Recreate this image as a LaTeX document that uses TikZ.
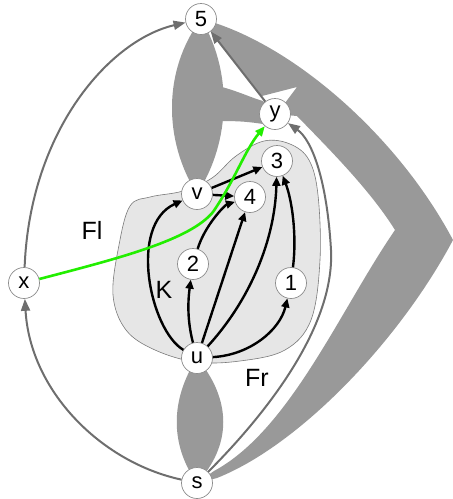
\documentclass[tikz,border=0pt]{standalone}
\usepackage{fontspec}
\setmainfont{Liberation Sans}
\usetikzlibrary{arrows.meta}
\definecolor{gfill}{HTML}{999999}
\definecolor{garr}{HTML}{6E6E6E}
\definecolor{blobfill}{HTML}{E6E6E6}
\definecolor{blobline}{HTML}{7A7A7A}
\definecolor{grn}{HTML}{22EE00}
\pgfdeclarelayer{bg}
\pgfsetlayers{bg,main}
\begin{document}
\begin{tikzpicture}[x=1pt,y=-1pt,
  vtx/.style={circle,draw=black!45,line width=0.7pt,fill=white,minimum size=31pt,inner sep=0pt,font=\fontsize{22}{22}\selectfont},
  garrow/.style={draw=garr,line width=2pt,-{Triangle[length=12pt,width=9pt]}},
  karrow/.style={draw=black,line width=2.4pt,-{Triangle[length=9pt,width=8pt]}},
  gedge/.style={draw=grn,line width=2.6pt,-{Triangle[length=10pt,width=8pt]}},
  lbl/.style={font=\fontsize{25}{25}\selectfont}]
\useasboundingbox (0,0) rectangle (453,499);
% nodes
\node[vtx] (n5) at (201,19) {5};
\node[vtx] (ny) at (275,114) {y};
\node[vtx] (n3) at (277,161) {3};
\node[vtx] (nv) at (197,194) {v};
\node[vtx] (n4) at (250,197) {4};
\node[vtx] (n2) at (193,264) {2};
\node[vtx] (n1) at (291,283) {1};
\node[vtx] (nx) at (24,283) {x};
\node[vtx] (nu) at (197,358) {u};
\node[vtx] (ns) at (197,483) {s};
% labels
\node[lbl] (lfl) at (92,230) {Fl};
\node[lbl] (lk) at (164,290) {K};
\node[lbl] (lfr) at (257,378) {Fr};
\begin{pgfonlayer}{bg}
  % chevron band
  \fill[gfill] (n5.center) -- (262,96) -- (297,87) -- (285,103) -- (ny.center) -- (297,116)
    .. controls (330,150) and (370,190) .. (395,230)
    .. controls (340,310) and (290,430) .. (214,471) -- (ns.center) -- (217,478)
    .. controls (300,445) and (400,340) .. (453,240)
    .. controls (400,140) and (300,50) .. (212,22) -- (n5.center);
  % lens 5 - v
  \fill[gfill] (n5.center) .. controls (163,70) and (163,140) .. (nv.center)
    .. controls (232,140) and (232,70) .. (n5.center);
  % band lens - y
  \fill[gfill] (222,87) .. controls (240,92) and (252,98) .. (263,101) -- (ny.center) -- (263,124)
    .. controls (250,122) and (240,121) .. (222,121) -- cycle;
  % lens u - s
  \fill[gfill] (nu.center) .. controls (170,400) and (170,445) .. (ns.center)
    .. controls (232,445) and (232,400) .. (nu.center);
  % blob K
  \filldraw[fill=blobfill,draw=blobline,line width=0.6pt]
    plot[smooth cycle,tension=0.6] coordinates {(183,191) (150,197) (130,206) (119,245) (113,295) (126,330) (155,350) (196,362) (240,361) (285,350) (311,320) (320,260) (318,195) (309,160) (290,144) (264,141) (236,156) (212,178)};
\end{pgfonlayer}
% gray arrows
\draw[garrow] (nx) .. controls (30,130) and (110,40) .. (n5);
\draw[garrow] (ns) .. controls (100,462) and (30,390) .. (nx);
\draw[garrow] (ny) -- (n5);
\coordinate (mr) at (331,250);
\draw[garrow] (ns) .. controls (260,420) and (335,330) .. (mr) .. controls (327,180) and (312,140) .. (ny);
% black arrows
\draw[karrow] (nu) .. controls (150,330) and (128,225) .. (nv);
\draw[karrow] (nu) .. controls (187,320) and (188,300) .. (n2);
\draw[karrow] (n2) .. controls (205,225) and (225,205) .. (n4);
\draw[karrow] (nu) -- (n4);
\draw[karrow] (nu) .. controls (250,300) and (275,240) .. (n3);
\draw[karrow] (n1) .. controls (297,235) and (292,200) .. (n3);
\draw[karrow] (nu) .. controls (250,355) and (280,330) .. (n1);
\draw[karrow] (nv) -- (n3);
\draw[karrow] (nv) -- (n4);
% green arrow
\draw[gedge] (nx) .. controls (120,258) and (190,240) .. (213,212) .. controls (235,180) and (245,150) .. (ny);
\end{tikzpicture}
\end{document}
